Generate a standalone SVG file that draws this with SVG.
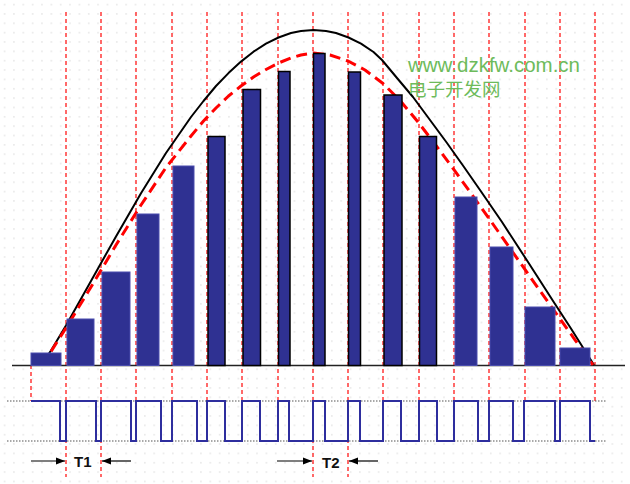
<svg xmlns="http://www.w3.org/2000/svg" width="630" height="484" viewBox="0 0 630 484">
<style>
.vline{stroke:#ff1a1a;stroke-width:1.3;stroke-dasharray:4 3;fill:none}
.bar{fill:#2f3192;stroke:#4a4dad;stroke-width:1}
.bark{fill:#2f3192;stroke:#000;stroke-width:1.5}
.ref{stroke:#555;stroke-width:1.2;stroke-dasharray:1.5 1.5;fill:none}
.lbl{font-family:"Liberation Sans",Arial,sans-serif;font-weight:bold;font-size:15px;fill:#111}
.wm{font-family:"Liberation Sans",Arial,"Noto Sans CJK SC",sans-serif;fill:#6dbb5b}
.arr{stroke:#000;stroke-width:1.2;fill:none}
</style>
<defs>
<pattern id="dots" width="9.35" height="9.35" patternUnits="userSpaceOnUse">
<rect x="4" y="4" width="1.2" height="1.2" fill="#d4d4d4"/>
</pattern>
<marker id="ah" viewBox="0 0 10 10" refX="10" refY="5" markerWidth="9" markerHeight="9" markerUnits="userSpaceOnUse" orient="auto">
<path d="M0,1 L10,5 L0,9 Z" fill="#000"/>
</marker>
</defs>
<rect width="630" height="484" fill="#fff"/>
<rect width="630" height="484" fill="url(#dots)"/>

<g id="grid-lines">
<path class="vline" d="M66,12V477 M101,12V477 M136,12V401 M172,12V401 M207,12V401 M242,12V401 M278,12V401 M313,12V477 M348,12V477 M383,12V401 M419,12V401 M454,12V401 M489,12V401 M525,12V401 M560,12V401 M595,12V401 M31,365V401"/>
</g>

<g id="reference-levels">
<line class="ref" x1="7" y1="401" x2="607" y2="401"/>
<line class="ref" x1="7" y1="441" x2="607" y2="441"/>
</g>

<g id="baseline">
<line x1="12" y1="365.5" x2="625" y2="365.5" stroke="#222" stroke-width="1.5"/>
</g>

<g id="curves">
<path id="sine" fill="none" stroke="#000" stroke-width="2" stroke-linejoin="round" d="M41,365 L51,350.5 66,325.4 91,281 116,236.4 141,193.2 166,153 191,117 203.5,101 216,86 228.5,73.1 241,61.6 253.5,51.7 266,43.7 278.5,37.5 291,33 301,31 313.5,30 326,31 336,33 348.5,37.5 361,43.7 373.5,52 382,60 397,78 413,97 430,120 447,143 464,167 480,190 502,222 528,262 555,304 570,327 582,346 594,365"/>
<path id="avg" fill="none" stroke="#ff0000" stroke-width="3" stroke-dasharray="11 6" stroke-linejoin="round" d="M41,365 L51,351.5 66,328 91,287 116,245 141,205 166,167.5 191,136 203.5,121 216,108 228.5,96 241,86 253.5,77 266,69.5 278.5,63 291,58 301,55 313.5,53 330,55 348,61 365,70 383,83.5 400,100.5 418,122 436,145.4 453,168.4 470,191.9 490,219.9 506,242.6 523,266.7 540,290.8 557,314.6 575,339.8 593,365"/>
</g>

<g id="bars">
<rect class="bar" x="31" y="353" width="30" height="12.5"/>
<rect class="bar" x="67" y="319" width="27" height="46.5"/>
<rect class="bar" x="102" y="272" width="28" height="93.5"/>
<rect class="bar" x="137" y="214" width="22" height="151.5"/>
<rect class="bar" x="173" y="166" width="21" height="199.5"/>
<rect class="bark" x="208" y="136.5" width="17" height="229"/>
<rect class="bark" x="243" y="89.5" width="17.5" height="276"/>
<rect class="bark" x="278.5" y="71.5" width="11.5" height="294"/>
<rect class="bark" x="313.5" y="53.5" width="11.5" height="312"/>
<rect class="bark" x="348.5" y="72" width="12" height="293.5"/>
<rect class="bark" x="384" y="95" width="18" height="270.5"/>
<rect class="bark" x="419.5" y="136.5" width="17" height="229"/>
<rect class="bar" x="455" y="197" width="22" height="168.5"/>
<rect class="bar" x="490" y="247" width="23" height="118.5"/>
<rect class="bar" x="525" y="307" width="30" height="58.5"/>
<rect class="bar" x="560" y="348" width="30" height="17.5"/>
</g>

<g id="pulse">
<path fill="none" stroke="#2e2e9e" stroke-width="2" d="M31,401 H60 V441 H66 V401 H96 V441 H101 V401 H131 V441 H136 V401 H161 V441 H172 V401 H197 V441 H207 V401 H225 V441 H242 V401 H260 V441 H278 V401 H289 V441 H313 V401 H325 V441 H348 V401 H360 V441 H383 V401 H401 V441 H419 V401 H437 V441 H454 V401 H478 V441 H489 V401 H513 V441 H524 V401 H555 V441 H560 V401 H590 V441 H595"/>
</g>

<g id="connectors">
<line class="arr" x1="31" y1="461" x2="65" y2="461" marker-end="url(#ah)"/>
<line class="arr" x1="131" y1="461" x2="102" y2="461" marker-end="url(#ah)"/>
<line class="arr" x1="277" y1="461" x2="312" y2="461" marker-end="url(#ah)"/>
<line class="arr" x1="378" y1="461" x2="349" y2="461" marker-end="url(#ah)"/>
</g>

<g id="label-T1"><text class="lbl" x="74" y="467">T1</text></g>
<g id="label-T2"><text class="lbl" x="322" y="468">T2</text></g>

<g id="watermark">
<text class="wm" x="408" y="72" font-size="20.5">www.dzkfw.com.cn</text>
<text class="wm" x="408" y="96" font-size="18.5">电子开发网</text>
</g>
</svg>
